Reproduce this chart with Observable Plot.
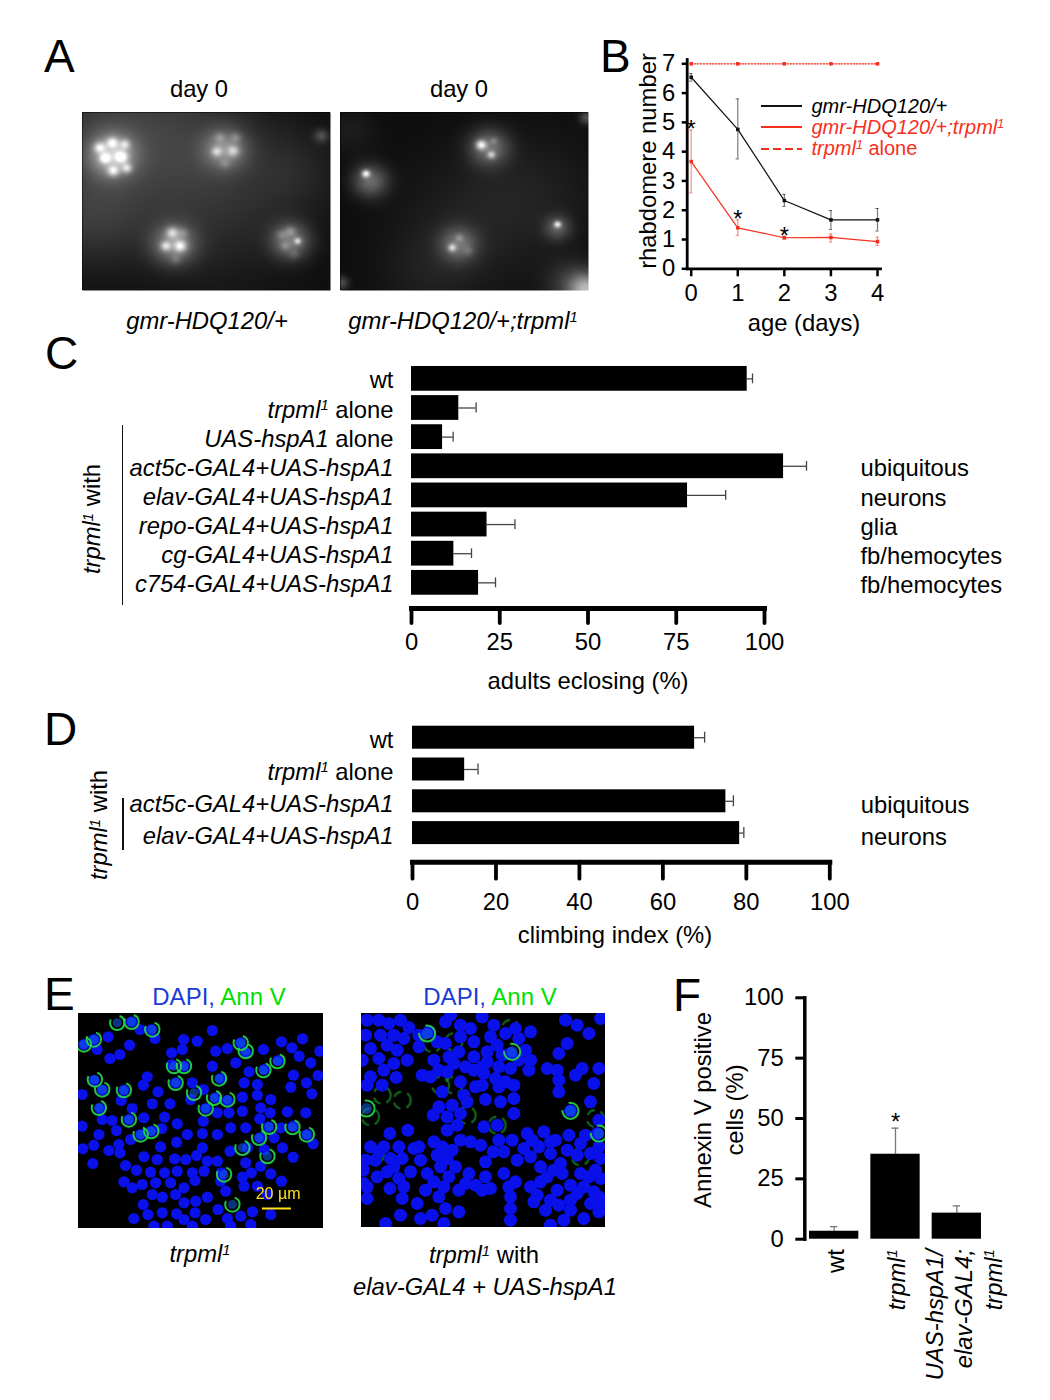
<!DOCTYPE html>
<html><head><meta charset="utf-8">
<script src="https://cdn.jsdelivr.net/npm/d3@7"></script>
<script src="https://cdn.jsdelivr.net/npm/@observablehq/plot@0.6"></script>
<style>
html,body{margin:0;padding:0;background:#fff}
#page{position:relative;width:1050px;height:1400px;overflow:hidden;font-family:"Liberation Sans",Arial,sans-serif;color:#000}
.lab{position:absolute;white-space:nowrap;line-height:1}
sup{font-size:.62em;line-height:0;vertical-align:.5em}
</style></head><body><div id="page"></div>
<script>
// ---------- Panel B
const days=[0,1,2,3,4];
const gmrMean=[6.54,4.76,2.33,1.67,1.67];
const gmrHigh=[6.67,5.80,2.54,1.99,2.06];
const gmrLow=[6.41,3.75,2.13,1.34,1.29];
const trpMean=[3.66,1.40,1.06,1.07,0.93];
const trpHigh=[4.74,1.67,1.11,1.19,1.08];
const trpLow=[2.59,1.14,1.01,0.91,0.80];
const aloneMean=[7,7,7,7,7];
const starDays=[0,1,2];
const starValues=[4.89,1.82,1.24];
// ---------- Panel C
const catsC=["wt","_trpml_^1 alone","_UAS-hspA1_ alone","_act5c-GAL4+UAS-hspA1_","_elav-GAL4+UAS-hspA1_","_repo-GAL4+UAS-hspA1_","_cg-GAL4+UAS-hspA1_","_c754-GAL4+UAS-hspA1_"];
const valC=[95.1,13.4,8.8,105.4,78.2,21.4,12,19];
const errC=[96.6,18.3,11.8,111.9,89,29.3,17,23.8];
const tissueCatsC=catsC.slice(3);
const tissuesC=["ubiquitous","neurons","glia","fb/hemocytes","fb/hemocytes"];
// ---------- Panel D
const catsD=["wt","_trpml_^1 alone","_act5c-GAL4+UAS-hspA1_","_elav-GAL4+UAS-hspA1_"];
const valD=[67.6,12.5,75.1,78.4];
const errD=[70,15.7,76.9,79.4];
const tissueCatsD=catsD.slice(2);
const tissuesD=["ubiquitous","neurons"];
// ---------- Panel F
const catsF=["wt","_trpml_^1","_UAS-hspA1/_\n_elav-GAL4;_\n_trpml_^1"];
const valF=[3.3,35.2,10.8];
const errF=[5.2,46,13.8];
const starF=50.1;
const spotsA1=[[225,372,44,.5],[535,355,42,.36],[395,640,42,.4],[715,630,38,.38],[800,315,14,.22],
[225,335,11,.42],[260,340,10,.36],[190,350,11,.42],[250,378,12,.5],[205,382,10,.5],[228,420,11,.45],[265,412,10,.42],
[520,320,10,.16],[565,320,10,.16],[512,362,10,.34],[558,360,11,.34],[535,398,10,.12],
[390,605,12,.42],[372,645,10,.42],[412,645,12,.5],[420,605,10,.16],[400,685,10,.12],
[715,600,10,.2],[735,630,7,.45],[690,610,10,.14],[700,645,9,.14],[725,670,10,.1],
[200,300,150,.17],[160,560,110,.14],[450,300,150,.1],[500,520,170,.12],[730,420,90,.07]];
const spotsA2=[[1262,350,38,.36],[935,450,34,.36],[1178,640,36,.33],[1450,590,26,.26],
[1240,342,10,.6],[1268,372,8,.42],[1275,330,7,.15],[923,428,8,.65],[1160,650,8,.45],[1180,620,8,.15],[1205,660,9,.1],[1450,580,7,.6],
[1530,775,32,.55],[1490,760,50,.18],[1530,260,14,.25],[855,755,14,.25],[1230,560,150,.07],[1400,480,130,.05],[1100,720,100,.06],[880,300,50,.06]];
const nucleiE1=[[213,152],[100,205],[143,197],[70,220],[110,235],[148,262],[178,250],[207,222],[238,175],[283,202],[272,175],[455,178],[410,210],[369,205],[365,235],[333,245],[465,240],[500,232],[540,215],[555,245],[608,235],[662,212],[693,230],[725,203],[777,240],[715,255],[750,275],[652,268],[610,295],[565,302],[525,275],[455,285],[370,285],[333,280],[480,322],[590,340],[550,335],[698,312],[772,313],[737,335],[690,348],[753,368],[100,328],[125,357],[65,370],[190,357],[182,388],[260,317],[248,342],[292,362],[345,335],[395,335],[428,355],[390,385],[465,380],[500,388],[545,378],[590,372],[630,385],[118,412],[215,412],[275,398],[328,398],[435,412],[470,425],[505,425],[545,420],[600,410],[628,425],[680,422],[735,425],[125,445],[155,448],[205,445],[250,440],[312,438],[350,458],[428,450],[597,443],[623,467],[660,470],[697,465],[738,490],[65,465],[115,490],[168,478],[210,505],[240,490],[272,480],[303,472],[380,490],[425,487],[470,490],[510,470],[555,470],[597,500],[640,500],[757,518],[100,522],[67,533],[145,538],[175,520],[178,545],[300,527],[348,513],[425,530],[508,540],[560,530],[610,535],[665,530],[97,577],[195,583],[250,557],[290,565],[342,563],[375,565],[408,553],[440,570],[470,570],[555,575],[697,558],[600,585],[228,597],[270,603],[312,605],[350,600],[395,605],[430,600],[482,605],[545,618],[572,605],[630,608],[662,630],[190,632],[215,650],[245,640],[285,635],[330,635],[403,628],[370,650],[480,630],[550,645],[590,645],[275,670],[248,700],[305,678],[345,670],[440,678],[405,690],[370,695],[495,660],[620,670],[305,725],[262,730],[220,742],[348,728],[403,725],[472,715],[435,745],[370,745],[500,742],[540,735],[575,722],[630,730],[570,760],[320,765],[280,765],[510,765],[395,765]];
const ringsE1=[[100,205],[213,152],[170,155],[275,175],[70,220],[103,325],[115,410],[125,355],[190,357],[205,445],[240,490],[272,480],[340,285],[370,285],[345,335],[475,322],[400,365],[500,385],[460,380],[435,412],[540,215],[608,297],[650,270],[595,500],[625,467],[695,468],[738,490],[545,530],[620,555],[490,610],[515,700],[555,240]];
const nucleiE2=[[50,150],[45,195],[90,195],[130,195],[175,172],[115,160],[60,235],[140,240],[205,230],[170,270],[100,300],[60,320],[137,322],[95,345],[50,345],[235,185],[285,155],[330,200],[300,135],[370,215],[430,165],[395,140],[495,175],[540,185],[505,205],[525,240],[480,250],[440,225],[410,245],[370,260],[325,245],[295,260],[250,270],[265,300],[290,305],[240,320],[330,335],[370,300],[410,275],[445,290],[480,295],[535,300],[590,295],[620,300],[625,250],[650,220],[645,150],[680,165],[715,190],[750,145],[675,315],[695,295],[745,295],[730,340],[625,365],[625,330],[395,345],[375,350],[435,325],[465,335],[490,345],[340,375],[405,388],[450,395],[490,385],[490,430],[275,365],[305,405],[248,435],[290,440],[330,430],[720,395],[660,422],[745,450],[400,470],[440,465],[485,510],[580,485],[655,495],[705,495],[740,490],[118,490],[172,480],[290,480],[250,515],[275,530],[330,510],[360,515],[390,525],[428,545],[60,530],[100,530],[145,530],[190,535],[520,535],[565,530],[615,510],[650,540],[745,530],[500,570],[600,550],[680,555],[750,565],[38,600],[75,570],[120,565],[155,565],[210,570],[260,555],[305,540],[290,565],[405,575],[540,560],[570,590],[630,580],[690,610],[110,605],[180,605],[230,610],[270,590],[315,590],[355,610],[405,620],[80,620],[570,635],[495,635],[460,610],[145,625],[250,635],[295,620],[345,640],[375,645],[420,655],[635,610],[660,645],[715,620],[750,625],[620,660],[50,650],[118,655],[160,650],[225,660],[280,650],[325,660],[480,680],[560,675],[730,665],[50,685],[155,685],[265,680],[600,690],[660,690],[720,700],[480,715],[625,705],[325,725],[245,735],[150,735],[285,715],[210,745],[105,760],[280,760],[480,750],[640,750],[700,745],[745,725],[600,765],
[85,150],[160,205],[110,225],[85,265],[130,280],[35,270],[205,195],[150,150],[260,215],[285,220],[330,165],[360,175],[420,200],[465,190],[395,290],[345,290],[310,280],[215,315],[455,255],[505,270],[400,310],[445,350],[540,270],[265,410],[350,395],[320,465],[85,545],[130,590],[205,530],[445,510],[460,545],[530,490],[600,515],[545,510],[590,620],[610,600],[690,520],[720,550],[735,600],[700,650],[680,670],[745,680],[750,700],[660,720],[585,720],[550,695],[540,650],[475,650],[395,660],[200,700],[40,640],[45,570]];
const ringsE2=[[230,190],[660,422],[745,490],[48,415],[485,245]];
const glowE2=[[245,220],[310,215],[60,440],[155,390],[95,375],[270,345],[310,345],[690,560],[75,553],[350,435],[440,465],[735,445],[480,175]];

const page=document.getElementById("page");
const FONT='"Liberation Sans",Arial,sans-serif';
const RED="#f5301f";
const FS=23.8;
const BASE={fontFamily:FONT,color:"#000",background:"transparent",overflow:"visible"};

function label(html,x,y,o={}){
  const d=document.createElement("div");d.className="lab";d.innerHTML=html;
  const a=o.anchor==="start"?"0":o.anchor==="end"?"-100%":"-50%";
  d.style.cssText=`left:${x}px;top:${y}px;font-size:${o.size||FS}px;color:${o.color||"#000"};transform:translate(${a},-50%)${o.rotate?` rotate(${o.rotate}deg)`:""}`;
  page.appendChild(d);
}
function line(x,y,w,h,css){
  const d=document.createElement("div");
  d.style.cssText=`position:absolute;left:${x}px;top:${y}px;width:${w}px;height:${h}px;${css}`;
  page.appendChild(d);
}
// Turns _italic_ and ^s markers in Plot's tick strings into tspans
function rich(svg){
  svg.querySelectorAll("text,tspan").forEach(el=>{
    if(el.children.length||!/[_^]/.test(el.textContent))return;
    const parts=el.textContent.split(/(_[^_]+_|\^\S)/).filter(s=>s);
    el.textContent="";let back=false;
    for(const p of parts){
      const t=document.createElementNS("http://www.w3.org/2000/svg","tspan");
      if(p[0]==="_"){t.textContent=p.slice(1,-1);t.setAttribute("font-style","italic");}
      else if(p[0]==="^"){t.textContent=p.slice(1);t.setAttribute("font-style","italic");t.setAttribute("font-size","62%");t.setAttribute("dy","-0.55em");back=true;}
      else {t.textContent=p;if(back){t.setAttribute("dy","0.34em");back=false;}}
      el.appendChild(t);
    }
  });
}
function place(plot,x,y){
  plot.style.position="absolute";plot.style.left=x+"px";plot.style.top=y+"px";
  rich(plot);page.appendChild(plot);return plot;
}
function hbar(cats,vals,errs,tCats,tissues,o){
  const data=cats.map((c,i)=>({c,v:vals[i],e:errs[i]}));
  const t=tissues.map((s,i)=>({c:tCats[i],s}));
  return Plot.plot({
    width:1050,height:o.height,
    marginLeft:o.x0,marginRight:1050-o.x1,marginTop:0,marginBottom:o.height-o.axisY,
    style:BASE,
    x:{domain:[0,100],label:null},
    y:{type:"band",domain:cats,range:o.yRange,padding:o.padding,round:false,label:null},
    marks:[
      Plot.ruleY(data,{y:"c",x1:"v",x2:"e",stroke:"#444",strokeWidth:1.3}),
      Plot.tickX(data,{x:"e",y:"c",stroke:"#444",strokeWidth:1.3,insetTop:o.capInset,insetBottom:o.capInset}),
      Plot.barX(data,{x:"v",y:"c",fill:"#000"}),
      Plot.frame({anchor:"bottom",stroke:"#000",strokeWidth:5}),
      Plot.axisX({ticks:o.ticks,tickFormat:d=>d,tickSize:o.tick,tickPadding:o.tickPad,strokeWidth:3.8,strokeLinecap:"round",fontSize:FS,label:null}),
      Plot.axisY({tickSize:0,tickPadding:o.pad,fontSize:FS,dy:o.labelDy,label:null}),
      Plot.text(t,{x:100,dx:o.tissueDx,dy:o.tissueOff,y:"c",text:"s",textAnchor:"start",fontSize:FS})
    ]});
}

// ---------- A
function micro(spots,dx,dy,px,py){
  const f=(x,y)=>{let s=.05;for(const [a,b,g,k] of spots){const u=(x-a),v=(y-b);s+=k*Math.exp(-(u*u+v*v)/(2*g*g));}return Math.min(1,s);};
  return Plot.plot({width:px,height:py,margin:0,axis:null,style:{...BASE,background:"#000"},
    x:{domain:dx},y:{domain:dy},color:{type:"linear",domain:[0,1],range:["#000","#fff"]},
    marks:[Plot.raster({fill:f,x1:dx[0],x2:dx[1],y1:dy[0],y2:dy[1],pixelSize:1})]});
}
place(micro(spotsA1,[143,825],[778,245],248,178),82,112);
place(micro(spotsA2,[853,1535],[778,245],248,178),340,112);
label("A",44,56,{size:46,anchor:"start"});
label("day 0",199,89);label("day 0",459,89);
label("<i>gmr-HDQ120/+</i>",207,321);
label("<i>gmr-HDQ120/+;trpml<sup>1</sup></i>",463,321);

// ---------- B
const rows=(m,h,l)=>days.map((x,i)=>({x,m:m[i],h:h[i],l:l[i]}));
const gmr=rows(gmrMean,gmrHigh,gmrLow),trp=rows(trpMean,trpHigh,trpLow);
const alone=days.map((x,i)=>({x,m:aloneMean[i]}));
const cap=.035;
const series=(d,c,sw)=>[
  Plot.ruleX(d,{x:"x",y1:"l",y2:"h",stroke:c,strokeOpacity:.55,strokeWidth:1.2}),
  Plot.ruleY(d,{y:"h",x1:r=>r.x-cap,x2:r=>r.x+cap,stroke:c,strokeOpacity:.6,strokeWidth:1}),
  Plot.ruleY(d,{y:"l",x1:r=>r.x-cap,x2:r=>r.x+cap,stroke:c,strokeOpacity:.6,strokeWidth:1}),
  Plot.line(d,{x:"x",y:"m",stroke:c,strokeWidth:sw}),
  Plot.dot(d,{x:"x",y:"m",symbol:"square",r:2,fill:c})
];
place(Plot.plot({width:1050,height:310,marginLeft:686.7,marginRight:170,marginTop:59,marginBottom:41.7,style:BASE,
  x:{domain:[0,4],range:[690.7,877],label:null},
  y:{domain:[0,7],range:[268.3,63.3],label:null},
  marks:[
    Plot.frame({anchor:"left",stroke:"#000",strokeWidth:2.8}),
    Plot.frame({anchor:"bottom",stroke:"#000",strokeWidth:2.8}),
    Plot.axisX({ticks:days,tickFormat:d=>d,tickSize:8,tickPadding:7,strokeWidth:2.5,fontSize:FS,label:null}),
    Plot.axisY({ticks:d3.range(0,8),tickFormat:d=>d,tickSize:5,tickPadding:7,strokeWidth:2.5,fontSize:FS,label:null}),
    Plot.line(alone,{x:"x",y:"m",stroke:RED,strokeWidth:1.2,strokeDasharray:"1.5 1.5"}),
    Plot.dot(alone,{x:"x",y:"m",symbol:"square",r:2,fill:RED}),
    ...series(gmr,"#111",1.2),
    ...series(trp,RED,1.2),
    Plot.text(starDays,{x:d=>d,y:(d,i)=>starValues[i],text:()=>"*",fontSize:FS,dy:4})
  ]}),0,0);
label("B",600,56,{size:46,anchor:"start"});
label("rhabdomere number",648,161,{rotate:-90});
label("age (days)",804,323);
line(761,105,41,1.6,"background:#111");
line(761,126,41,1.6,`background:${RED}`);
line(761,148,41,1.8,`background:repeating-linear-gradient(90deg,${RED} 0 8px,transparent 8px 12px)`);
label("<i>gmr-HDQ120/+</i>",811.5,106,{size:20,anchor:"start"});
label("<i>gmr-HDQ120/+;trpml<sup>1</sup></i>",811.5,127,{size:20,anchor:"start",color:RED});
label("<i>trpml<sup>1</sup></i> alone",811.5,148,{size:20,anchor:"start",color:RED});

// ---------- C
place(hbar(catsC,valC,errC,tissueCatsC,tissuesC,{height:670,x0:411,x1:764,axisY:608,yRange:[361.6,599.1],padding:.15,capInset:7.5,ticks:[0,25,50,75,100],tick:15,tickPad:10,pad:18,labelDy:2,tissueDx:96,tissueOff:2.5}),0,0);
label("C",45,353,{size:46,anchor:"start"});
label("adults eclosing (%)",588,681);
label("<i>trpml<sup>1</sup></i> with",92,519,{rotate:-90});
line(121.5,425,1.6,180,"background:#111");

// ---------- D
place(hbar(catsD,valD,errD,tissueCatsD,tissuesD,{height:920,x0:412,x1:829.3,axisY:861.7,yRange:[716.9,852.9],padding:.277,capInset:6,ticks:[0,20,40,60,80,100],tick:17,tickPad:14,pad:19,labelDy:3,tissueDx:31,tissueOff:4}),0,0);
label("D",44,729,{size:46,anchor:"start"});
label("climbing index (%)",615,935);
label("<i>trpml<sup>1</sup></i> with",99,825,{rotate:-90});
line(122,798,1.6,52,"background:#111");

// ---------- E
function confocal(nuclei,rings,glow,r,dx,dy,w,h,extra=[]){
  const X=d=>d[0],Y=d=>d[1];
  return Plot.plot({width:w,height:h,margin:0,axis:null,style:{...BASE,background:"#000",overflow:"hidden",filter:"blur(.6px)"},
    x:{domain:dx},y:{domain:dy},
    marks:[
      Plot.dot(glow,{x:X,y:Y,r:r+2,stroke:"#159a2c",strokeWidth:2.4,strokeOpacity:.6,strokeDasharray:"9 6"}),
      Plot.dot(nuclei,{x:X,y:Y,r,fill:"#0a10ea"}),
      Plot.dot(rings,{x:X,y:Y,r:r-1,fill:"#1060e8",fillOpacity:.55}),
      Plot.dot(rings,{x:X,y:Y,r:r+1.6,stroke:"#22dc4a",strokeWidth:2,strokeOpacity:.9,strokeDasharray:"26 10"}),
      ...extra
    ]});
}
place(confocal(nucleiE1,ringsE1,[],5.6,[54,788],[772,127],245,215,[
  Plot.ruleY([712],{x1:605,x2:692,stroke:"#ffe21a",strokeWidth:2}),
  Plot.text(["20 µm"],{x:()=>652,y:()=>667,text:d=>d,fill:"#ffe21a",fontSize:16})
]),78,1012.5);
place(confocal(nucleiE2,ringsE2,glowE2,6.5,[33,765],[772,130],244,214),361,1013);
label("E",44,994,{size:46,anchor:"start"});
const dapi='<span style="color:#1c3bd6">DAPI,</span> <span style="color:#00e000">Ann V</span>';
label(dapi,219,997,{size:24});label(dapi,490,997,{size:24});
label("<i>trpml<sup>1</sup></i>",200,1254);
label("<i>trpml<sup>1</sup></i> with",484,1255);
label("<i>elav-GAL4 + UAS-hspA1</i>",485,1287);

// ---------- F
const dataF=catsF.map((c,i)=>({c,v:valF[i],e:errF[i]}));
const axF={tickSize:0,tickPadding:10,tickRotate:-90,fontSize:FS,lineHeight:1.24,label:null};
place(Plot.plot({width:1050,height:440,marginLeft:804.3,marginRight:60,marginTop:37.3,marginBottom:161.3,style:BASE,
  x:{type:"band",domain:catsF,range:[797,993],padding:.196,round:false,label:null},
  y:{domain:[0,100],label:null},
  marks:[
    Plot.ruleX(dataF,{x:"c",y1:"v",y2:"e",stroke:"#777",strokeWidth:1.3}),
    Plot.tickY(dataF,{y:"e",x:"c",stroke:"#777",strokeWidth:1.3,insetLeft:21,insetRight:21}),
    Plot.barY(dataF,{x:"c",y:"v",fill:"#000"}),
    Plot.frame({anchor:"left",stroke:"#000",strokeWidth:3.5}),
    Plot.axisY({ticks:[0,25,50,75,100],tickFormat:d=>d,tickSize:9,tickPadding:12,strokeWidth:3,fontSize:FS,label:null}),
    Plot.axisX({...axF,ticks:catsF.slice(0,2),dy:0}),
    Plot.axisX({...axF,ticks:catsF.slice(2),dx:6}),
    Plot.text([catsF[1]],{x:d=>d,y:()=>starF,text:()=>"*",fontSize:FS,dy:4})
  ]}),0,960);
label("F",673,995,{size:46,anchor:"start"});
label("Annexin V positive",703,1110,{rotate:-90});
label("cells (%)",735,1110,{rotate:-90});
</script></body></html>
